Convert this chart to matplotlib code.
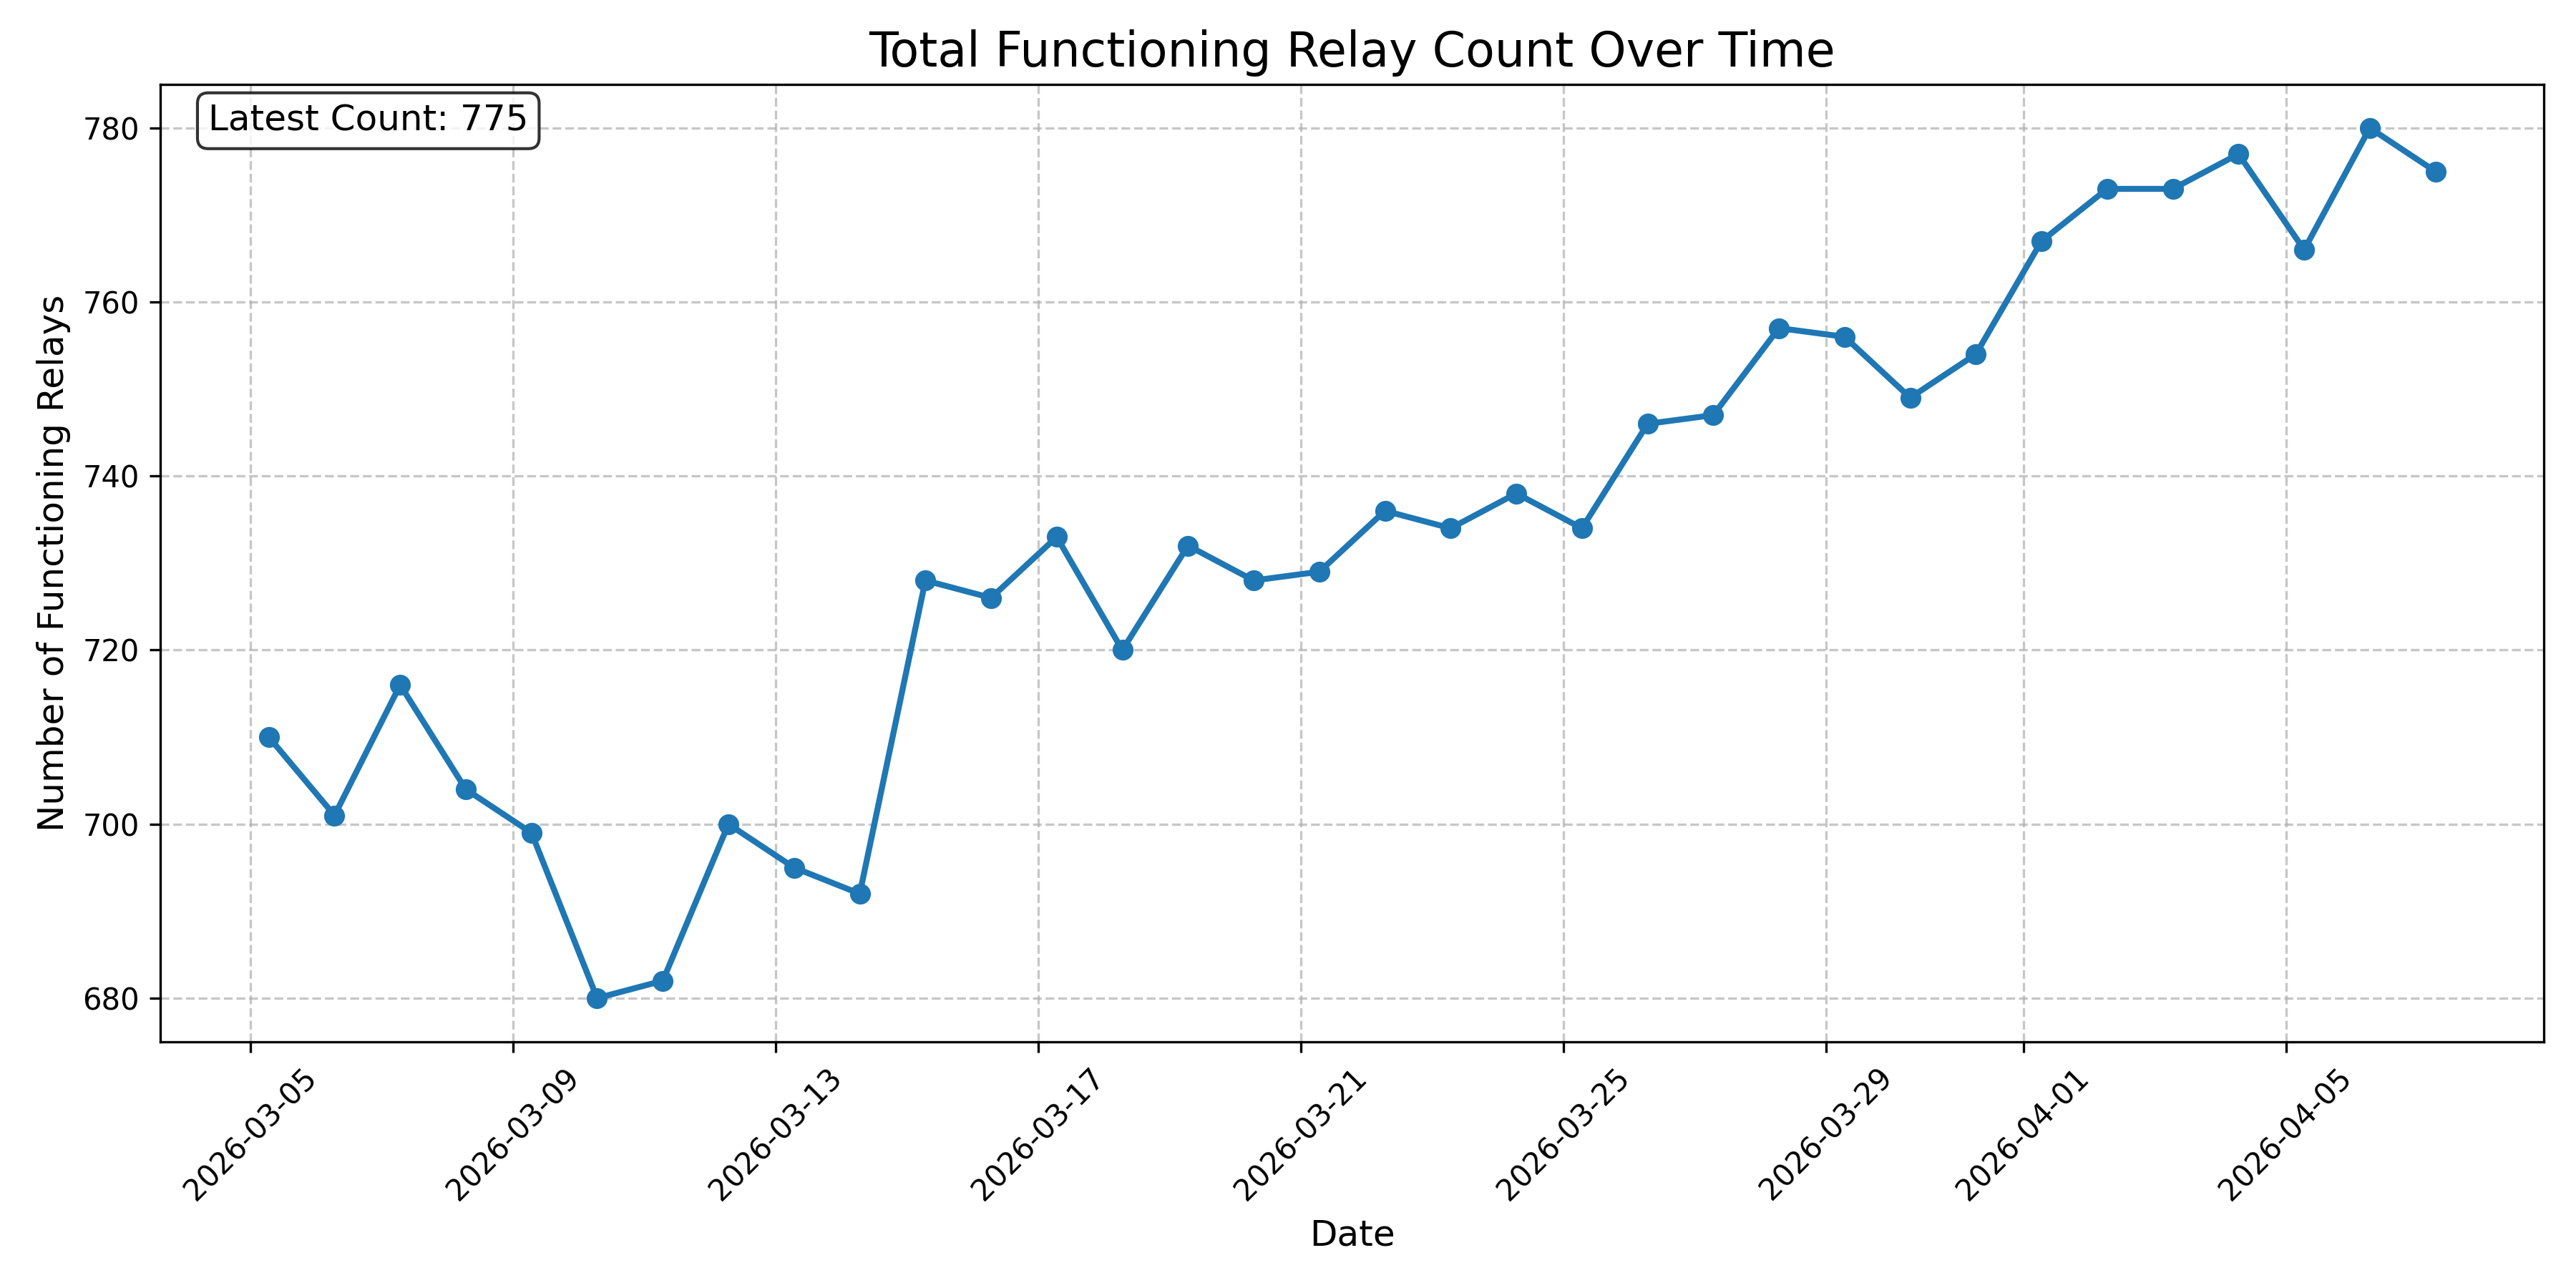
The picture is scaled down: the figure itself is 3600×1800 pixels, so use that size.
import numpy as np
import pandas as pd
import matplotlib
matplotlib.use("Agg")
import matplotlib.pyplot as plt
import matplotlib.dates as mdates


# 每日的中继数量
dates = pd.date_range("2026-03-05 06:40", periods=34, freq="D")
counts = [710, 701, 716, 704, 699, 680, 682, 700, 695, 692,
          728, 726, 733, 720, 732, 728, 729, 736, 734, 738,
          734, 746, 747, 757, 756, 749, 754, 767, 773, 773,
          777, 766, 780, 775]

fig, ax = plt.subplots(figsize=(12, 6))
ax.plot(dates, counts, marker='o', linewidth=2, markersize=6, color='#1f77b4')
ax.set_title("Total Functioning Relay Count Over Time", fontsize=16)
ax.set_xlabel("Date", fontsize=12)
ax.set_ylabel("Number of Functioning Relays", fontsize=12)
ax.grid(True, linestyle='--', alpha=0.7)
ax.xaxis.set_major_formatter(mdates.DateFormatter("%Y-%m-%d"))
plt.setp(ax.get_xticklabels(), rotation=45)

ax.text(0.02, 0.98, f"Latest Count: {counts[-1]}", transform=ax.transAxes,
        fontsize=12, va='top',
        bbox=dict(boxstyle='round', facecolor='white', alpha=0.8))

plt.tight_layout()
plt.savefig("out.png", dpi=300)
